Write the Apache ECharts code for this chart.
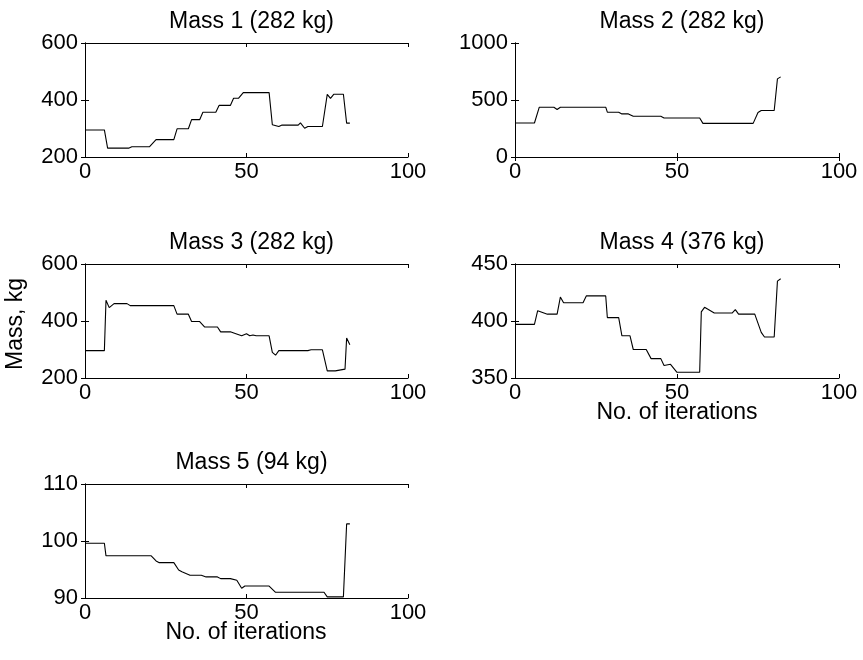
<!DOCTYPE html>
<html>
<head>
<meta charset="utf-8">
<script src="https://cdn.jsdelivr.net/npm/echarts@6/dist/echarts.min.js"></script>
<style>
  html, body { margin: 0; padding: 0; background: #fff; }
  #chart { width: 863px; height: 660px; }
</style>
</head>
<body>
<div id="chart"></div>
<script>
// ---- Data (iteration, mass in kg) ----
const titles = ['Mass 1 (282 kg)', 'Mass 2 (282 kg)', 'Mass 3 (282 kg)', 'Mass 4 (376 kg)', 'Mass 5 (94 kg)'];
const xTicks = [0, 50, 100];
const yRanges = [[200, 600, 200], [0, 1000, 500], [200, 600, 200], [350, 450, 50], [90, 110, 10]];

const mass1 = [[0,295],[6,295],[7,231],[13.5,231],[14.5,236],[20,236],[22,261],[27.5,261],[28.5,299],[32,299],[33,331],[35.5,331],[36.5,357],[40.5,357],[41.5,381],[45,381],[46,406],[47.5,406],[49,426],[57,426],[58,313],[60,307],[61,312],[66,312],[66.7,320],[68,301],[69,307],[73.5,307],[75,420],[76,406],[77,420],[80,420],[81,319],[82,319]];
const mass2 = [[0,298],[6,298],[7.5,437],[12,437],[13,417],[14,437],[28,437],[28.5,393],[32,393],[33,378],[35,378],[36.5,357],[45,357],[46,342],[57,342],[58,295],[73.5,295],[75,390],[76,408],[80,408],[81,685],[82,703]];
const mass3 = [[0,296],[6,296],[6.5,473],[7.5,447],[9,461],[13,461],[14,454],[27.5,454],[28.5,424],[32,424],[33,398],[35.5,398],[37,379],[41,379],[42,362],[45,362],[46.5,356],[48.5,348],[50,355],[51,348],[52,351],[53,348],[57,348],[58,290],[59,280],[60,296],[69,296],[70,299],[73.5,299],[75,225],[77.5,225],[78,231],[80.5,231],[81,340],[82,317]];
const mass4 = [[0,397],[6,397],[7,409],[10,406],[13,406],[14,421],[15,416],[21,416],[22,422],[28,422],[28.5,403],[32,403],[33,387],[35.5,387],[36.5,375],[40.5,375],[42,367],[45,367],[46,361],[48,362],[50,355],[57,355],[57.5,408],[58.5,412],[61.5,407],[67,407],[68,410],[69,406],[74,406],[76,390],[77,386],[80,386],[81,435],[82,437]];
const mass5 = [[0,99.6],[6,99.6],[6.5,97.4],[20.5,97.4],[22,96.5],[23,96.2],[27.5,96.2],[29,94.9],[30,94.6],[32.5,94],[36,94],[37.5,93.7],[41,93.7],[42,93.4],[45,93.4],[47,93.1],[48.5,91.7],[49.5,92.1],[57,92.1],[59,91],[74,91],[75,90.2],[80,90.2],[81,103],[82,103]];
const allSeries = [mass1, mass2, mass3, mass4, mass5];
const xAxisName = 'No. of iterations';
const yAxisName = 'Mass, kg';

// ---- Layout ----
const FONT = "'Liberation Sans', Arial, sans-serif";
const TICK_FS = 22, TITLE_FS = 23, NAME_FS = 23;
const grids = [
  { left: 85,  top: 43,  width: 323, height: 114 },
  { left: 515, top: 43,  width: 324, height: 114 },
  { left: 85,  top: 264, width: 323, height: 114 },
  { left: 515, top: 264, width: 324, height: 114 },
  { left: 85,  top: 484, width: 323, height: 114 }
];

const xAxes = [], yAxes = [], series = [], titleOpts = [];
grids.forEach((g, i) => {
  const [ymin, ymax, yint] = yRanges[i];
  const tick = { show: true, inside: true, length: 4, lineStyle: { color: '#000', width: 1 } };
  const line = { show: true, lineStyle: { color: '#000', width: 1 } };
  xAxes.push({ gridIndex: i, type: 'value', min: xTicks[0], max: xTicks[xTicks.length - 1], interval: 50,
    position: 'bottom', axisLine: line, axisTick: tick, splitLine: { show: false },
    axisLabel: { color: '#000', fontSize: TICK_FS, fontFamily: FONT, margin: 4, formatter: v => String(v) } });
  xAxes.push({ gridIndex: i, type: 'value', min: xTicks[0], max: xTicks[xTicks.length - 1], interval: 50,
    position: 'top', axisLine: line, axisTick: tick, splitLine: { show: false }, axisLabel: { show: false } });
  yAxes.push({ gridIndex: i, type: 'value', min: ymin, max: ymax, interval: yint,
    position: 'left', axisLine: line, axisTick: tick, splitLine: { show: false },
    axisLabel: { color: '#000', fontSize: TICK_FS, fontFamily: FONT, margin: 7, formatter: v => String(v) } });
  yAxes.push({ gridIndex: i, type: 'value', min: ymin, max: ymax, interval: yint,
    position: 'right', axisLine: line, axisTick: tick, splitLine: { show: false }, axisLabel: { show: false } });
  series.push({ type: 'line', xAxisIndex: 2 * i, yAxisIndex: 2 * i, data: allSeries[i],
    showSymbol: false, symbol: 'none', lineStyle: { color: '#000', width: 1.1 }, silent: true });
  titleOpts.push({ text: titles[i], left: g.left + g.width / 2, top: g.top - 38, textAlign: 'center',
    textStyle: { color: '#000', fontSize: TITLE_FS, fontWeight: 'normal', fontFamily: FONT } });
});

const chart = echarts.init(document.getElementById('chart'), null, { renderer: 'canvas' });
chart.setOption({
  animation: false,
  backgroundColor: '#fff',
  title: titleOpts,
  grid: grids,
  xAxis: xAxes,
  yAxis: yAxes,
  series: series,
  graphic: [
    { type: 'text', x: 16, y: 324, rotation: Math.PI / 2,
      style: { text: yAxisName, font: NAME_FS + 'px ' + FONT, fill: '#000', textAlign: 'center', textVerticalAlign: 'middle' } },
    { type: 'text', x: 677, y: 413,
      style: { text: xAxisName, font: NAME_FS + 'px ' + FONT, fill: '#000', textAlign: 'center', textVerticalAlign: 'middle' } },
    { type: 'text', x: 246, y: 633,
      style: { text: xAxisName, font: NAME_FS + 'px ' + FONT, fill: '#000', textAlign: 'center', textVerticalAlign: 'middle' } }
  ]
});
</script>
</body>
</html>
